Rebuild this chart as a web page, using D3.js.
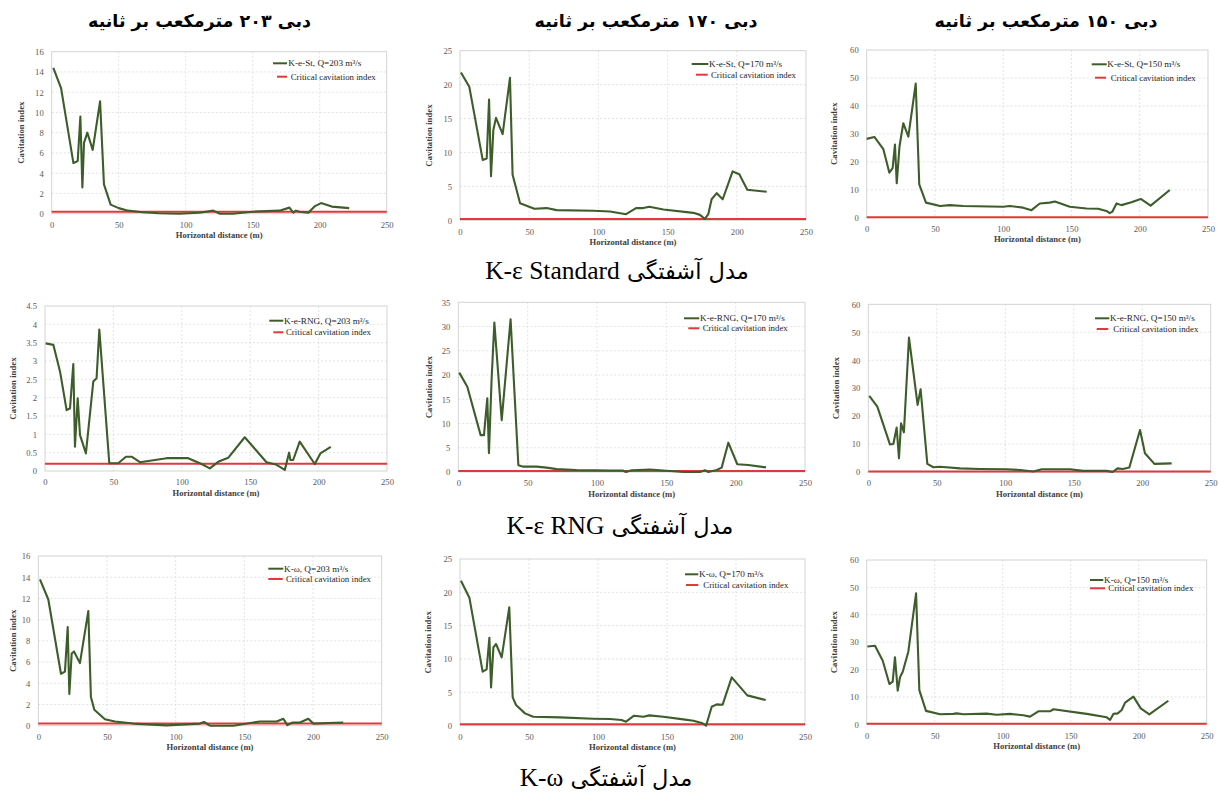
<!DOCTYPE html>
<html>
<head>
<meta charset="utf-8">
<script src="https://cdn.jsdelivr.net/npm/d3@7"></script>
<style>
  body { margin: 0; background: #fff; }
  svg { display: block; }
</style>
</head>
<body>
<svg id="fig" width="1219" height="794"></svg>
<script>
// ---- data -------------------------------------------------------------
const distanceTicks = [0, 50, 100, 150, 200, 250];
const criticalIndex = 0.2;

const columnTitles = ["دبی ۲۰۳ مترمکعب بر ثانیه", "دبی ۱۷۰ مترمکعب بر ثانیه", "دبی ۱۵۰ مترمکعب بر ثانیه"];
const captionPrefix = "مدل آشفتگی";
const modelNames = ["K-ε Standard", "K-ε RNG", "K-ω"];

const seriesLabels = [
  "K-e-St, Q=203 m³/s", "K-e-St, Q=170 m³/s", "K-e-St, Q=150 m³/s",
  "K-e-RNG, Q=203 m³/s", "K-e-RNG, Q=170 m³/s", "K-e-RNG, Q=150 m³/s",
  "K-ω, Q=203 m³/s", "K-ω, Q=170 m³/s", "K-ω, Q=150 m³/s"
];
const criticalLabel = "Critical cavitation index";

// y-axis maximum and tick step for each panel
const yMaxima = [16, 25, 60, 4.5, 35, 60, 16, 25, 60];
const yTickSteps = [2, 5, 10, 0.5, 5, 10, 2, 5, 10];

// cavitation index along the horizontal distance: [distance (m), index]
const stQ203 = [[1.2,14.4],[7,12.4],[16.2,5.0],[19.4,5.2],[21.4,9.6],[22.9,2.6],[24.1,7.0],[26.6,8.0],[30.6,6.3],[36.1,11.1],[39,2.9],[44,0.9],[50,0.55],[57,0.3],[68,0.15],[80,0.05],[95,0.0],[110,0.1],[120.6,0.3],[125.6,0.0],[135,0.0],[150,0.2],[170,0.3],[177.4,0.6],[180.3,0.1],[182.3,0.3],[185,0.2],[191.5,0.1],[196.5,0.75],[201,1.05],[209,0.7],[222,0.55]];
const stQ170 = [[0.7,21.8],[6.7,19.7],[16.4,8.9],[19.3,9.1],[21,17.8],[22.4,6.5],[24.1,13.3],[26,15.1],[30.8,12.7],[36.1,21.0],[38,6.7],[43.4,2.5],[53.7,1.7],[62.6,1.8],[69.8,1.5],[96.3,1.4],[108.4,1.3],[120,0.9],[127.2,1.8],[132.5,1.8],[136.8,2.0],[147,1.6],[168.6,1.1],[173.4,0.8],[177,0.2],[179.4,0.9],[181.8,3.1],[185.5,4.0],[189.8,3.1],[197,7.2],[201.8,6.8],[207.6,4.5],[221.6,4.2]];
const stQ150 = [[0,28.2],[5.6,28.9],[12.2,24.5],[16.6,16.1],[19,17.7],[20.7,26.2],[22,12.3],[24,25.4],[26.8,33.8],[30.5,29.0],[35.9,48.0],[38.5,11.9],[43.4,5.4],[53.7,4.2],[61,4.5],[70.7,4.2],[100,3.9],[104.9,4.2],[114.6,3.6],[120.7,2.7],[126.8,5.1],[134,5.4],[137.8,5.8],[148.8,3.9],[161,3.3],[169.5,3.2],[175.6,2.4],[178,1.6],[180,2.2],[183,5.1],[186.6,4.5],[193.9,5.5],[200.7,6.7],[208,4.3],[222,9.9]];

const rngQ203 = [[0.5,3.48],[6.1,3.44],[11,2.71],[15.8,1.66],[18.3,1.71],[20.7,2.92],[21.9,0.66],[23.9,1.98],[25.6,0.98],[29.9,0.48],[35.3,2.44],[37.7,2.53],[39.7,3.86],[47,0.21],[53.5,0.21],[59.2,0.39],[63.3,0.39],[69.4,0.24],[88.9,0.35],[104.7,0.35],[114.4,0.19],[120.5,0.07],[126.6,0.25],[133.9,0.36],[146,0.92],[161.9,0.24],[168.7,0.18],[175.3,0.03],[178.4,0.5],[179.4,0.3],[181.4,0.3],[186.2,0.8],[197.2,0.19],[201.3,0.48],[208.9,0.66]];
const rngQ170 = [[0.7,20.5],[6.5,17.6],[16.1,7.6],[18.5,7.6],[20.9,15.2],[22.1,3.9],[24,19],[26,30.8],[31.3,10.7],[37.7,31.5],[43.3,1.4],[46.9,1.1],[56.5,1.1],[63.7,0.9],[70.9,0.6],[85.3,0.4],[99.8,0.35],[109.4,0.3],[118.5,0.3],[120.9,0.0],[125,0.35],[138.2,0.5],[147.8,0.3],[162.3,0.0],[174.3,0.0],[177.9,0.35],[180.3,0.0],[186.3,0.4],[189.9,0.9],[194.7,6.05],[201.2,1.6],[209.1,1.45],[221.9,0.95]];
const rngQ150 = [[0.7,27.2],[6.6,23.4],[15.8,9.9],[18.3,10.0],[20.7,15.9],[22.4,4.9],[23.9,17.4],[26,14.2],[29.7,48.1],[36,24],[38.2,29.6],[43.1,2.9],[47.5,1.7],[52.3,1.9],[66.9,1.3],[81.5,1.1],[101,1.0],[110.8,0.7],[120.5,0.2],[126.6,1.0],[147.3,1.0],[157,0.4],[174,0.4],[178.4,0.0],[182,1.3],[185.7,1.1],[190.6,1.6],[198.4,15.0],[202,6.7],[208.9,2.9],[221.5,3.1]];

const kwQ203 = [[1.2,13.8],[7.3,11.9],[16.5,4.9],[19.4,5.1],[21.4,9.3],[22.6,3.0],[24.3,6.8],[26,7.0],[30.3,5.9],[36.4,10.8],[38.3,2.7],[40.8,1.5],[48.5,0.6],[55.8,0.4],[69.2,0.2],[93.4,0.03],[117.7,0.2],[120.6,0.35],[125,0.0],[142,0.0],[156.6,0.3],[161.4,0.4],[173.5,0.4],[178.4,0.65],[181.3,0.05],[185.2,0.3],[190.5,0.3],[196.6,0.65],[200.2,0.2],[222,0.3]];
const kwQ170 = [[0.7,21.75],[6.8,19.2],[16.4,8.1],[19.3,8.45],[21.3,13.2],[22.5,5.75],[24.2,11.75],[26.1,12.25],[30.2,10.25],[35.7,17.75],[38.2,4.25],[40.6,3.1],[47.1,1.85],[53.1,1.35],[72.5,1.25],[96.6,1.05],[108.7,1.0],[117.1,0.85],[120.3,0.6],[126.1,1.5],[132.9,1.35],[137.2,1.55],[147.3,1.35],[161.8,0.95],[169.1,0.75],[175.8,0.35],[178.3,0.0],[182.4,2.85],[186,3.2],[190.3,3.15],[196.9,7.25],[208.2,4.55],[221.5,3.85]];
const kwQ150 = [[0.5,28.4],[6.1,28.7],[11.8,23.2],[16.7,14.7],[19.1,15.6],[20.8,24.5],[22.8,12.3],[24.5,17.2],[26.5,19.2],[30.6,26.5],[36.3,47.8],[38.7,12.5],[43.6,4.9],[53.9,3.65],[63.7,3.8],[66.2,4.0],[71.1,3.65],[88.2,3.9],[95.6,3.5],[105.4,3.8],[115.2,3.3],[120.1,2.8],[126.2,4.75],[134.8,4.75],[137.3,5.5],[161.8,3.8],[176.5,2.55],[178.9,1.6],[181.4,3.8],[184.6,4.0],[187.5,5.2],[190,7.9],[196.1,10.1],[201.5,5.8],[207.8,3.65],[221.8,8.6]];

const panelSeries = [stQ203, stQ170, stQ150, rngQ203, rngQ170, rngQ150, kwQ203, kwQ170, kwQ150];

// ---- layout -----------------------------------------------------------
// plot-area box of each panel and x of its vertical axis title
const frames = [
  {l: 51.7,  r: 386.7,  t: 51.7,  b: 213.7, yt: 21.7},
  {l: 460,   r: 806,    t: 50.7,  b: 220.3, yt: 430},
  {l: 866.7, r: 1208,   t: 50,    b: 217.7, yt: 835},
  {l: 45,    r: 387,    t: 306,   b: 471,   yt: 13.5},
  {l: 458.3, r: 805,    t: 302.3, b: 472,   yt: 430},
  {l: 868.3, r: 1210.7, t: 304.3, b: 472,   yt: 836.5},
  {l: 38.3,  r: 381.7,  t: 556,   b: 725.7, yt: 13.5},
  {l: 460,   r: 805,    t: 559,   b: 725.7, yt: 429},
  {l: 866.7, r: 1206.7, t: 560,   b: 724.3, yt: 835}
];
// legend entries: [line x1, line x2, y, text x] for the series and the critical line
const legends = [
  {g: [273, 287, 63.3, 288.3],        c: [277, 287, 76.7, 290.7]},
  {g: [691.7, 708.3, 64, 709],        c: [696, 707.7, 74.7, 711]},
  {g: [1091.7, 1106.7, 64.3, 1107.3], c: [1095, 1106, 77.7, 1110.7]},
  {g: [269.3, 283.3, 320.7, 284],     c: [273.3, 283.3, 332.3, 286]},
  {g: [684, 699.3, 318.3, 700],       c: [688.3, 699.3, 328.3, 702.7]},
  {g: [1095, 1109.3, 318.3, 1110],    c: [1096.7, 1108.3, 329, 1113.3]},
  {g: [268.3, 283.3, 568.7, 284],     c: [268.3, 282.7, 579, 286]},
  {g: [685, 698.3, 574.3, 699],       c: [686, 698.3, 585, 703.3]},
  {g: [1090, 1103.3, 580, 1104],      c: [1090, 1105, 588.3, 1108.3]}
];

const GREEN = "#3d5d2b";
const RED = "#de3a3c";
const SERIF = "'Liberation Serif', 'Times New Roman', serif";
const PERSIAN = "'DejaVu Sans', sans-serif";

const svg = d3.select("#fig");

panelSeries.forEach((series, i) => {
  const f = frames[i];
  const x = d3.scaleLinear().domain([0, 250]).range([f.l, f.r]);
  const y = d3.scaleLinear().domain([0, yMaxima[i]]).range([f.b, f.t]);
  const yTicks = d3.range(0, yMaxima[i] + yTickSteps[i] / 2, yTickSteps[i]);
  const g = svg.append("g");

  // dashed gridlines
  g.selectAll(".gx").data(distanceTicks.slice(1, -1)).join("line")
    .attr("x1", d => x(d)).attr("x2", d => x(d))
    .attr("y1", f.t).attr("y2", f.b)
    .attr("stroke", "#dcdcdc").attr("stroke-width", 0.8).attr("stroke-dasharray", "2,2");
  g.selectAll(".gy").data(yTicks.slice(1, -1)).join("line")
    .attr("x1", f.l).attr("x2", f.r)
    .attr("y1", d => y(d)).attr("y2", d => y(d))
    .attr("stroke", "#dcdcdc").attr("stroke-width", 0.8).attr("stroke-dasharray", "2,2");

  // plot-area border
  g.append("rect").attr("x", f.l).attr("y", f.t)
    .attr("width", f.r - f.l).attr("height", f.b - f.t)
    .attr("fill", "none").attr("stroke", "#cfcfcf").attr("stroke-width", 0.9);

  // axes (labels only, no tick marks)
  const xAxis = d3.axisBottom(x).tickValues(distanceTicks).tickSize(0).tickPadding(0);
  const xg = g.append("g").attr("transform", `translate(0,${f.b + 11.5})`).call(xAxis);
  const yAxis = d3.axisLeft(y).tickValues(yTicks).tickSize(0).tickPadding(8)
    .tickFormat(d => d3.format("~g")(+d.toFixed(2)));
  const yg = g.append("g").attr("transform", `translate(${f.l},0)`).call(yAxis);
  [xg, yg].forEach(a => {
    a.select(".domain").remove();
    a.selectAll("text").attr("font-family", SERIF).attr("font-size", 8.6)
      .attr("fill", "#595959").attr("dy", "0.33em");
  });

  // axis titles
  g.append("text").attr("x", (f.l + f.r) / 2).attr("y", f.b + 22.8)
    .attr("text-anchor", "middle").attr("dominant-baseline", "middle")
    .attr("font-family", SERIF).attr("font-weight", "bold").attr("font-size", 8.6)
    .attr("fill", "#404040").text("Horizontal distance (m)");
  g.append("text")
    .attr("transform", `translate(${f.yt},${(f.t + f.b) / 2}) rotate(-90)`)
    .attr("text-anchor", "middle").attr("dominant-baseline", "middle")
    .attr("font-family", SERIF).attr("font-weight", "bold").attr("font-size", 8.8)
    .attr("fill", "#404040").text("Cavitation index");

  // critical cavitation index
  g.append("line").attr("x1", x(0)).attr("x2", x(250))
    .attr("y1", y(criticalIndex)).attr("y2", y(criticalIndex))
    .attr("stroke", RED).attr("stroke-width", 2);

  // computed cavitation index
  const line = d3.line().x(d => x(d[0])).y(d => y(d[1]));
  g.append("path").datum(series).attr("d", line)
    .attr("fill", "none").attr("stroke", GREEN).attr("stroke-width", 2.1)
    .attr("stroke-linejoin", "round");

  // legend
  const lg = legends[i];
  [[lg.g, GREEN, seriesLabels[i], 9.2], [lg.c, RED, criticalLabel, 8.8]].forEach(([p, col, label, fs]) => {
    g.append("line").attr("x1", p[0]).attr("x2", p[1]).attr("y1", p[2]).attr("y2", p[2])
      .attr("stroke", col).attr("stroke-width", 2);
    g.append("text").attr("x", p[3]).attr("y", p[2]).attr("dy", "0.33em")
      .attr("font-family", SERIF).attr("font-size", fs).attr("fill", "#262626")
      .text(label);
  });
});

// column titles (flow rate)
const colCenters = [199.5, 646, 1046];
columnTitles.forEach((t, i) => {
  svg.append("text").attr("x", colCenters[i]).attr("y", 27)
    .attr("text-anchor", "middle").attr("direction", "rtl")
    .attr("font-family", PERSIAN).attr("font-weight", "bold").attr("font-size", 17.5)
    .attr("fill", "#000").text(t);
});

// row captions (turbulence model)
const captionPos = [[617, 279], [620, 534], [606, 786]];
modelNames.forEach((name, i) => {
  const t = svg.append("text").attr("x", captionPos[i][0]).attr("y", captionPos[i][1])
    .attr("text-anchor", "middle").attr("direction", "rtl").attr("fill", "#000");
  t.append("tspan").attr("font-family", PERSIAN).attr("font-size", 22.5)
    .text(captionPrefix + " ");
  t.append("tspan").attr("font-family", SERIF).attr("font-size", 25.5)
    .text(name);
});
</script>
</body>
</html>
